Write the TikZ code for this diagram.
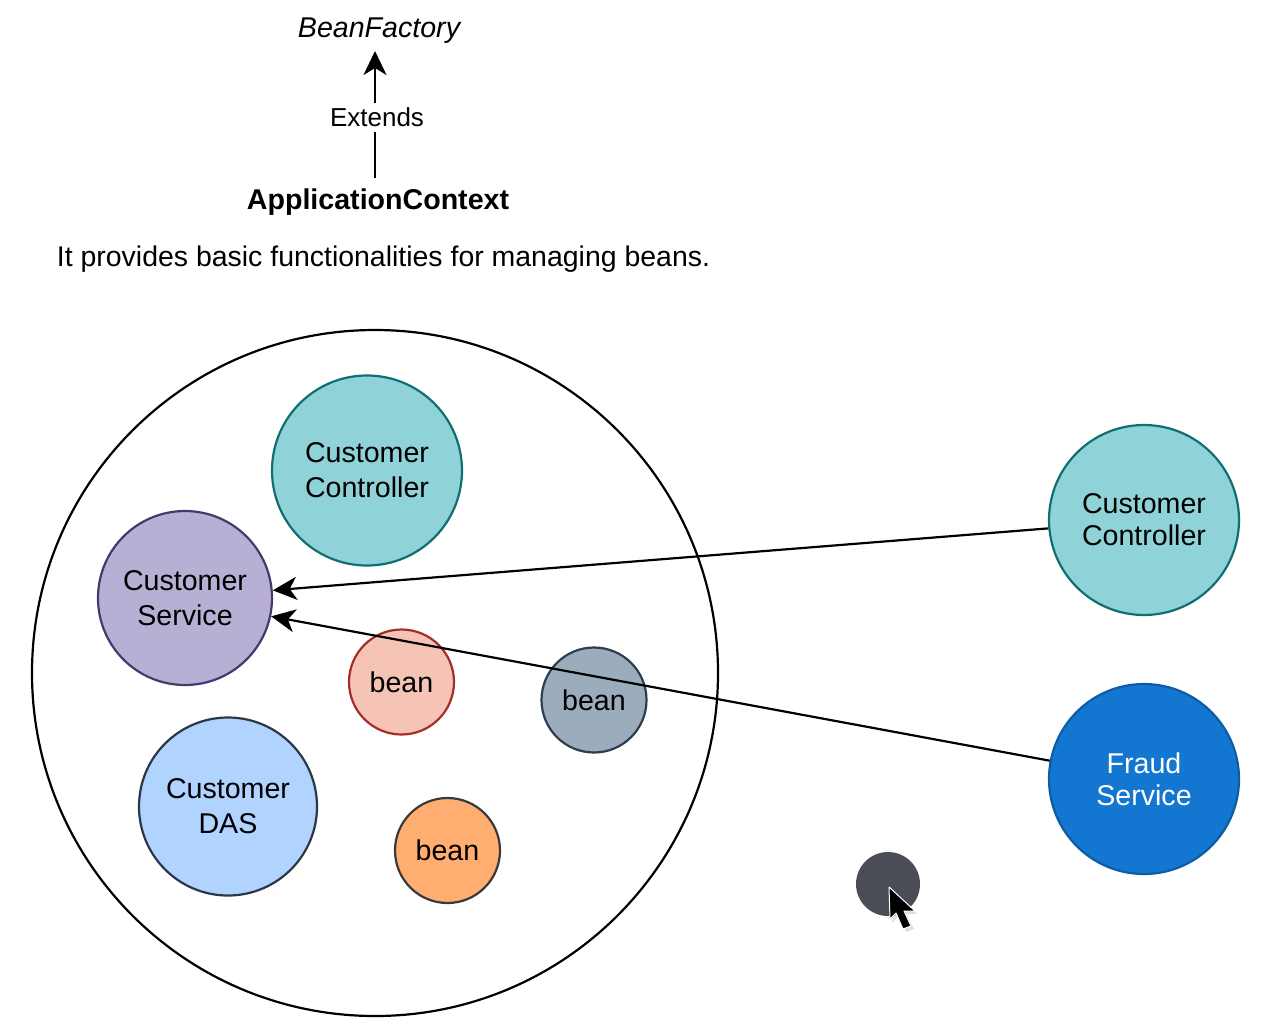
\documentclass[tikz,border=0pt]{standalone}
\usepackage{fontspec}
\setmainfont{Liberation Sans}
\usetikzlibrary{arrows.meta}
\definecolor{ctrlfill}{HTML}{8FD3D9}
\definecolor{ctrlline}{HTML}{10706F}
\definecolor{svcfill}{HTML}{B8B0D4}
\definecolor{svcline}{HTML}{45396F}
\definecolor{redfill}{HTML}{F5C4B6}
\definecolor{redline}{HTML}{A32F2B}
\definecolor{grayfill}{HTML}{9BADBD}
\definecolor{grayline}{HTML}{2E3E4E}
\definecolor{dasfill}{HTML}{B0D4FF}
\definecolor{dasline}{HTML}{2B3744}
\definecolor{orangefill}{HTML}{FFAD70}
\definecolor{orangeline}{HTML}{3A3A3A}
\definecolor{fraudfill}{HTML}{1377D1}
\definecolor{fraudline}{HTML}{0C5CA6}
\definecolor{dotfill}{HTML}{4A4D55}
\tikzset{
  label text/.style={font=\fontsize{28.6}{35}\selectfont, inner sep=0pt, align=center},
  tight text/.style={font=\fontsize{28.6}{32}\selectfont},
  bubble/.style={circle, draw, line width=2.2pt, label text, minimum size=#1},
  link/.style={line width=2.2pt, -{Stealth[length=24pt,width=23pt,inset=7pt]}}
}
\begin{document}
\begin{tikzpicture}[x=1pt,y=-1pt]
\useasboundingbox (0,0) rectangle (1276,1028);
%% top text
\node[label text] (factory) at (379,31) {\itshape BeanFactory};
\node[label text] (context) at (378,202) {\bfseries ApplicationContext};
\node[label text, font=\fontsize{28.45}{35}\selectfont] (note) at (383.5,259) {It provides basic functionalities for managing beans.};
\draw[link, shorten >=7pt, shorten <=10pt] (context.north -| 375,0)
  -- node[fill=white, label text, font=\fontsize{26}{30}\selectfont, inner ysep=5pt, inner xsep=1pt, pos=0.49, xshift=2pt] (extends) {Extends}
  (factory.south -| 375,0);
%% container
\node[circle, draw, line width=2.2pt, minimum size=686pt, inner sep=0pt] (container) at (375,673) {};
%% beans
\node[bubble=190pt, fill=ctrlfill, draw=ctrlline] (ctrlin) at (367,470.5) {Customer\\Controller};
\node[bubble=174pt, fill=svcfill, draw=svcline] (service) at (185,598) {Customer\\Service};
\node[bubble=105pt, fill=redfill, draw=redline] (beanred) at (401.5,682) {bean};
\node[bubble=105pt, fill=grayfill, draw=grayline] (beangray) at (594,700) {bean};
\node[bubble=178pt, fill=dasfill, draw=dasline] (das) at (228,806.5) {Customer\\DAS};
\node[bubble=105pt, fill=orangefill, draw=orangeline] (beanorange) at (447.5,850.5) {bean};
%% outside
\node[bubble=190pt, tight text, fill=ctrlfill, draw=ctrlline] (ctrlout) at (1144,520) {Customer\\Controller};
\node[bubble=190pt, tight text, fill=fraudfill, draw=fraudline, text=white] (fraud) at (1144,779) {Fraud\\Service};
%% connectors
\draw[link] (ctrlout.185) -- (service.5);
\draw[link] (fraud.169) -- (service.-12);
%% pointer
\node[circle, fill=dotfill, minimum size=64pt, inner sep=0pt] (dot) at (888,884) {};
\fill[black!25, opacity=0.5] (892,892) -- (892,923) -- (899,916) -- (906,932) -- (914,929) -- (906,914) -- (917,914) -- cycle;
\filldraw[black, draw=white, line width=1pt, line join=round] (889,887) -- (890,919) -- (896,913) -- (903,929) -- (911,926) -- (904,911) -- (915,911) -- cycle;
\end{tikzpicture}
\end{document}
